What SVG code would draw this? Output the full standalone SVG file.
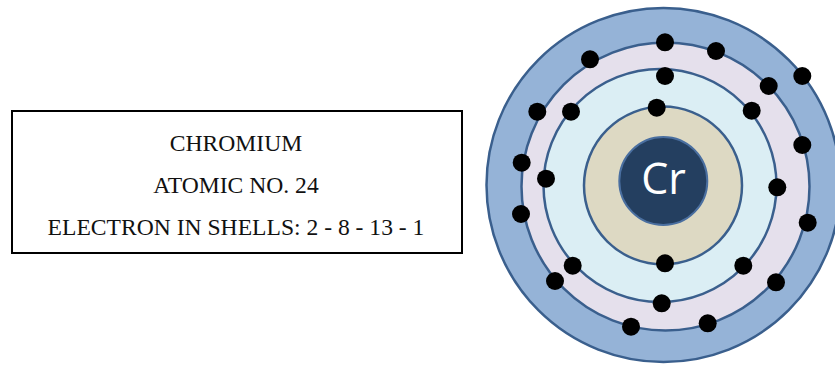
<svg xmlns="http://www.w3.org/2000/svg" width="835" height="365" viewBox="0 0 835 365">
  <style>
    .shell { stroke: #3a5f8d; stroke-width: 2.5; }
    .label { font-family: "Liberation Serif", "Times New Roman", serif; font-size: 23.6px; fill: #111; text-anchor: middle; }
    .electron { fill: #000; }
    .symbol { font-family: "Open Sans", "Noto Sans", sans-serif; font-size: 43px; fill: #fff; text-anchor: middle; }
  </style>
  <rect width="835" height="365" fill="#fff"/>

  <!-- info box -->
  <g id="info-box">
    <rect x="12" y="111" width="450" height="142" fill="#fff" stroke="#000" stroke-width="2"/>
    <text class="label" x="236" y="151">CHROMIUM</text>
    <text class="label" x="236" y="193">ATOMIC NO. 24</text>
    <text class="label" x="236" y="235">ELECTRON IN SHELLS: 2 - 8 - 13 - 1</text>
  </g>

  <!-- atom: shells from outside in -->
  <g id="atom">
    <circle id="shell-4" class="shell" cx="663.5" cy="185" r="177" fill="#95b3d7"/>
    <circle id="shell-3" class="shell" cx="665.5" cy="186.5" r="144" fill="#e5e0ec"/>
    <circle id="shell-2" class="shell" cx="660" cy="185.5" r="116.5" fill="#dbeef4"/>
    <circle id="shell-1" class="shell" cx="663" cy="185.5" r="79" fill="#ddd9c3"/>
    <g id="nucleus">
      <circle cx="663.3" cy="181" r="44" fill="#243f60" stroke="#4a6fa0" stroke-width="2"/>
      <text class="symbol" x="663.5" y="194">Cr</text>
    </g>
  </g>

  <!-- electrons -->
  <g id="electrons" class="electron">
    <circle cx="665" cy="42.3" r="9"/>
    <circle cx="716" cy="51" r="9"/>
    <circle cx="590" cy="59.3" r="9"/>
    <circle cx="665" cy="76" r="9"/>
    <circle cx="802.3" cy="76" r="9"/>
    <circle cx="768.7" cy="86" r="9"/>
    <circle cx="537.3" cy="111.7" r="9"/>
    <circle cx="571" cy="111.7" r="9"/>
    <circle cx="656.7" cy="107.7" r="9"/>
    <circle cx="751.7" cy="110.7" r="9"/>
    <circle cx="802.3" cy="145" r="9"/>
    <circle cx="521.7" cy="162.7" r="9"/>
    <circle cx="546" cy="178.7" r="9"/>
    <circle cx="777.3" cy="187.3" r="9"/>
    <circle cx="521" cy="214" r="9"/>
    <circle cx="807.7" cy="222.7" r="9"/>
    <circle cx="665" cy="263.3" r="9"/>
    <circle cx="572.7" cy="265.7" r="9"/>
    <circle cx="743.3" cy="265.7" r="9"/>
    <circle cx="555" cy="281" r="9"/>
    <circle cx="776" cy="282.3" r="9"/>
    <circle cx="661.7" cy="303.3" r="9"/>
    <circle cx="631" cy="326.7" r="9"/>
    <circle cx="707.7" cy="323.3" r="9"/>
  </g>
</svg>
